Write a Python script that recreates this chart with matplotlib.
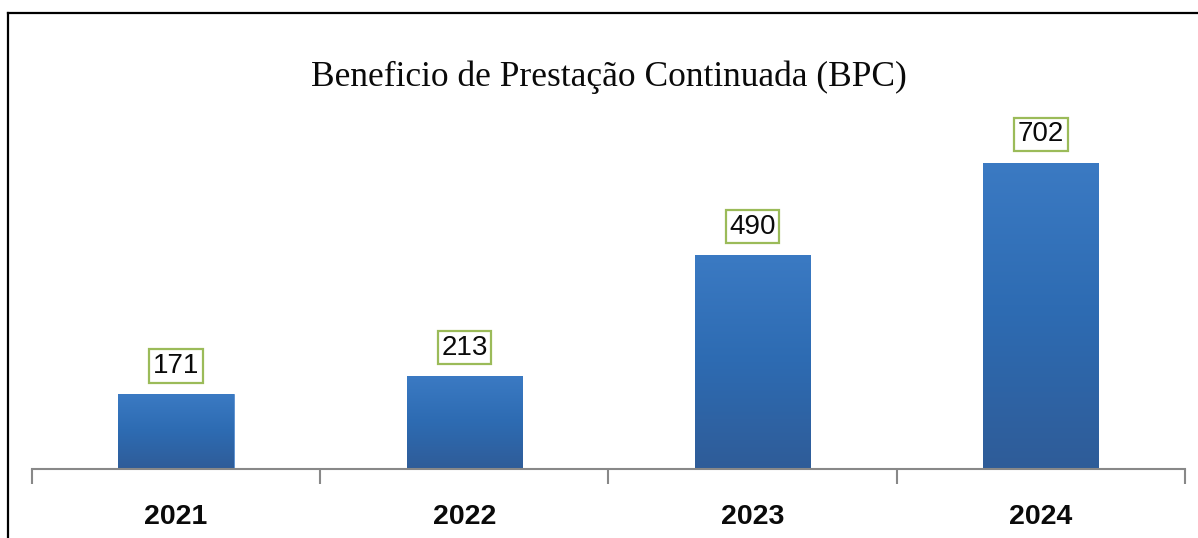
import matplotlib.pyplot as plt
import numpy as np
from matplotlib.colors import LinearSegmentedColormap
from matplotlib.lines import Line2D

years = ['2021', '2022', '2023', '2024']
values = [171, 213, 490, 702]

title = 'Beneficio de Prestação Continuada (BPC)'
sans = ['Liberation Sans Narrow', 'Liberation Sans', 'DejaVu Sans']

fig = plt.figure(figsize=(11.98, 5.38), dpi=100)
ax = fig.add_axes([0.0267, 0.1283, 0.9624, 0.6487])

x = np.arange(len(years))
bars = ax.bar(x, values, width=0.4, color='#2e6db4', edgecolor='#5a8fd0', linewidth=0.6)

# vertical gradient inside each bar
grad_cmap = LinearSegmentedColormap.from_list('g', ['#2f5c98', '#2d6bb2', '#3b7ac3'])
grad = np.linspace(0, 1, 256).reshape(-1, 1)
for b in bars:
    x0, y0 = b.get_x(), b.get_y()
    im = ax.imshow(grad, cmap=grad_cmap, origin='lower', aspect='auto',
                   extent=[x0, x0 + b.get_width(), y0, y0 + b.get_height()], zorder=2)
    im.set_clip_path(b)

# value labels in green boxes
for xi, v in zip(x, values):
    ax.annotate(str(v), (xi, v), xytext=(0, 20.5), textcoords='offset points',
                ha='center', va='center', fontsize=20, family=sans, color='#0a0a0a',
                bbox=dict(boxstyle='square,pad=0.13', fc='white', ec='#9bbb59', lw=1.6))

ax.set_xlim(-0.5, 3.5)
ax.set_ylim(0, 800)
ax.set_xticks(x)
ax.set_xticklabels(years, fontsize=20.5, fontweight='bold', family=sans, color='#0a0a0a')
ax.tick_params(axis='x', which='major', length=0, pad=25)
ax.set_xticks(np.arange(-0.5, 4, 1), minor=True)
ax.tick_params(axis='x', which='minor', length=11, width=1.5, color='#888888', direction='out')
ax.set_yticks([])
for s in ['top', 'right', 'left']:
    ax.spines[s].set_visible(False)
ax.spines['bottom'].set_color('#888888')
ax.spines['bottom'].set_linewidth(1.5)

fig.text(0.508, 0.857, title, ha='center', va='center', fontsize=25.5,
         family=['Liberation Serif', 'DejaVu Serif'], color='#0a0a0a')

# outer frame (top and left edges)
fig.add_artist(Line2D([0.0063, 1.0], [0.975, 0.975], transform=fig.transFigure, color='black', lw=1.6))
fig.add_artist(Line2D([0.0063, 0.0063], [0.0, 0.975], transform=fig.transFigure, color='black', lw=1.6))

fig.savefig('out.png', dpi=100)
